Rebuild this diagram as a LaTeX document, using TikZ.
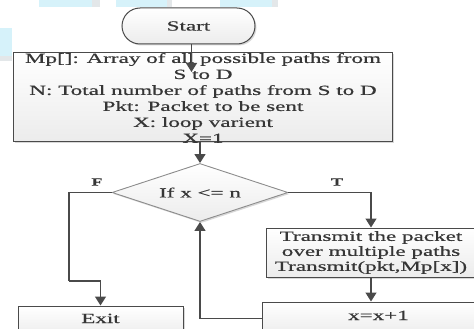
\documentclass[tikz,border=0pt]{standalone}
\usepackage{fontspec}
\setmainfont[FakeStretch=1.65,FakeBold=0.6]{Liberation Serif}
\usetikzlibrary{arrows.meta,shapes.geometric,shadows}
\definecolor{ink}{HTML}{363636}
\definecolor{edge}{HTML}{4A4A4A}
\definecolor{diaedge}{HTML}{8C8C8C}
\definecolor{sky}{HTML}{D6F2FA}
\definecolor{strip}{HTML}{E3E7E9}
\begin{document}
\begin{tikzpicture}[x=1pt,y=-1pt,
  every node/.style={text=ink,font=\fontsize{14}{16}\selectfont},
  shade/.style={top color=white,bottom color=gray!15},
  shadowed/.style={drop shadow={shadow xshift=1.5pt,shadow yshift=-1.5pt,fill=gray!60,opacity=.5}},
  box/.style={draw=edge,line width=1pt,shade,shadowed,inner sep=0pt},
  arr/.style={draw=edge,line width=1.3pt,-{Triangle[width=11pt,length=9pt]}},
  link/.style={draw=edge,line width=1.3pt},
  lbl/.style={font=\fontsize{11}{13}\selectfont\bfseries,inner sep=0pt}]
\clip (0,0) rectangle (474,329);

% light tiles along the top and left edge
\fill[sky] (39,0) rectangle (92,7.5);
\fill[strip] (92,0) rectangle (100,7.5);
\fill[sky] (116,0) rectangle (167,7.5);
\fill[strip] (167,0) rectangle (172,7.5);
\fill[sky] (220,0) rectangle (272,7.5);
\fill[strip] (272,0) rectangle (278,7.5);
\fill[sky] (0,28) rectangle (12,56);
\fill[strip] (0,56) rectangle (12,61);

% terminal
\node[box,rounded corners=18pt,minimum width=133pt,minimum height=36pt] (start) at (188.5,26) {Start};

% initialisation block
\node[box,minimum width=379pt,minimum height=88pt] (init) at (202.5,97) {};
\node[align=center,inner sep=0pt] (inittext) at (203,98) {Mp[]: Array of all possible paths from\\ S to D\\ N: Total number of paths from S to D\\ Pkt: Packet to be sent\\ X: loop varient\\ X=1};
\coordinate (inittip) at (191.5,72);

% decision
\node[diamond,draw=diaedge,line width=.9pt,shade,shadowed,aspect=3,inner sep=0pt,
      minimum width=176pt,minimum height=58pt] (dec) at (200,192.5) {If x <= n};
\node[lbl] (flab) at (97,182) {F};
\node[lbl] (tlab) at (337,182) {T};

% true branch
\node[box,align=center,font=\fontsize{14}{15}\selectfont,minimum width=210pt,minimum height=49pt] (trans) at (371,252.5)
  {Transmit the packet\\ over multiple paths\\ Transmit(pkt,Mp[x])};
\node[box,text height=9.3pt,text depth=6pt,minimum width=233pt,minimum height=32.7pt] (incr) at (378.5,318.35) {x=x+1};

% false branch
\node[box,text height=9.3pt,text depth=6pt,minimum width=165pt,minimum height=30.7pt] (exit) at (100.5,321.35) {Exit};
\coordinate (fbend) at (69,281);

% connectors
\draw[arr] (start.south -| inittip) -- (inittip);
\draw[arr] (dec.north |- init.south) -- (dec.north);
\draw[arr] (dec.east) -| (trans.north);
\draw[arr] (trans.south) -- (trans.south |- incr.north);
\draw[arr] (incr.west) -| (dec.south);
\draw[link] (dec.west) -| (fbend);
\draw[arr] (fbend) -| (exit.north);
\end{tikzpicture}
\end{document}
